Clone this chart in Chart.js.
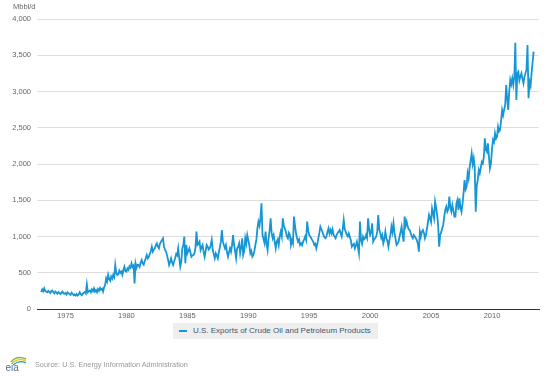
<!DOCTYPE html>
<html>
<head>
<meta charset="utf-8">
<script src="https://cdn.jsdelivr.net/npm/chart.js@4.4.0/dist/chart.umd.min.js"></script>
<style>
html,body{margin:0;padding:0;background:#fff;}
#wrap{position:relative;width:548px;height:376px;overflow:hidden;font-family:"Liberation Sans",Arial,sans-serif;}
#chart{position:absolute;left:0;top:0;}
#unit{position:absolute;left:13px;top:2px;font-size:7.5px;line-height:9px;color:#666;}
#legend{position:absolute;left:173px;top:323px;width:205px;height:16px;background:#eeeeee;}
#legend .mk{position:absolute;left:6px;top:7px;width:8px;height:2px;background:#1696d4;}
#legend .tx{position:absolute;left:20px;top:3px;font-size:8px;line-height:10px;color:#3e576f;white-space:nowrap;}
#source{position:absolute;left:35px;top:360px;font-size:7.3px;line-height:10px;color:#999;white-space:nowrap;}
#logo{position:absolute;left:5px;top:355px;}
</style>
</head>
<body>
<div id="wrap">
  <canvas id="chart" width="548" height="376"></canvas>
  <div id="unit">Mbbl/d</div>
  <div id="legend"><span class="mk"></span><span class="tx" id="legendText"></span></div>
  <svg id="logo" width="24" height="17" viewBox="0 0 24 17">
    <path d="M6 7 Q12 0 21 4" stroke="#7ab648" stroke-width="1.6" fill="none"/>
    <path d="M7 8.5 Q13 2.5 21 6" stroke="#f2c200" stroke-width="1.3" fill="none"/>
    <path d="M8 10 Q14 4.5 21 8" stroke="#1a97d5" stroke-width="1.1" fill="none"/>
    <text x="0.5" y="16" font-family="Liberation Sans, Arial, sans-serif" font-size="10" fill="#4f6f8d">eia</text>
  </svg>
  <div id="source">Source: U.S. Energy Information Administration</div>
</div>
<script>
// ---- data (thousand barrels per day, monthly, Jan 1973 onward) ----
const seriesName = "U.S. Exports of Crude Oil and Petroleum Products";
const unitLabel = "Mbbl/d";
const startYear = 1973;
const exports1970s = [
  235, 270, 245, 285, 250, 240, 230, 250, 235, 220, 245, 255,
  230, 215, 240, 225, 210, 235, 220, 205, 225, 240, 215, 210,
  220, 200, 230, 215, 205, 195, 225, 210, 190, 200, 185, 205,
  185, 200, 230, 205, 190, 210, 225, 235, 215, 340, 230, 245,
  255, 230, 270, 245, 285, 240, 260, 230, 275, 250, 290, 265,
  280, 240, 300, 330, 420, 380, 470, 410, 390, 450, 420, 470,
  440, 607, 500, 469, 480, 530, 500, 516, 470, 540, 583, 520
];
const exports1980s = [
  516, 560, 540, 590, 570, 630, 580, 600, 354, 630, 570, 610,
  607, 580, 640, 676, 630, 610, 660, 700, 745, 699, 720, 760,
  800, 860, 791, 820, 837, 880, 906, 860, 837, 900, 929, 950,
  975, 860, 814, 791, 740, 680, 607, 650, 699, 640, 607, 660,
  699, 760, 740, 837, 700, 583, 650, 837, 883, 998, 630, 883,
  768, 800, 837, 780, 722, 740, 745, 768, 850, 1067, 883, 900,
  929, 814, 850, 883, 790, 722, 800, 883, 860, 820, 837, 880,
  952, 814, 760, 699, 768, 740, 699, 780, 850, 929, 1090, 929,
  880, 837, 883, 790, 722, 780, 837, 791, 880, 1021, 883, 800,
  699, 837, 860, 906, 768, 850, 975, 745, 800, 975, 900, 1021
];
const exports1990s = [
  950, 883, 768, 800, 722, 745, 800, 883, 960, 1113, 1205, 1150,
  1250, 1458, 1021, 960, 906, 1067, 900, 814, 975, 1080, 1251, 1050,
  975, 1021, 930, 837, 929, 960, 883, 1000, 1067, 1000, 1251, 1150,
  1113, 1067, 1000, 975, 1050, 1021, 883, 950, 906, 1274, 1150, 1044,
  980, 929, 960, 883, 906, 880, 929, 960, 998, 952, 1205, 1080,
  1021, 1000, 975, 950, 929, 883, 900, 837, 900, 975, 1050, 1136,
  1100, 1067, 1021, 990, 975, 1000, 1067, 1113, 1040, 1090, 1044, 1100,
  1021, 1000, 975, 1021, 1050, 1067, 1090, 1040, 998, 1100, 1228, 1100,
  1067, 1021, 1000, 1044, 998, 950, 860, 883, 900, 837, 880, 929,
  850, 768, 1205, 952, 900, 998, 960, 975, 1021, 980, 1251, 1100
];
const exports2000s = [
  1021, 1060, 1182, 929, 960, 975, 1000, 1067, 1297, 1100, 1044, 980,
  1021, 906, 960, 1067, 975, 940, 860, 950, 1021, 1136, 1060, 1182,
  1050, 975, 883, 900, 929, 1000, 1067, 1136, 1020, 929, 1274, 1150,
  1205, 1136, 1100, 1090, 1044, 1000, 975, 1021, 1000, 975, 950, 900,
  791, 1067, 1000, 1067, 1090, 1050, 975, 1020, 1113, 1200, 1297, 1251,
  1200, 1388, 1320, 1250, 1480, 1400, 1297, 1150, 860, 1021, 1060, 1113,
  1159, 1273, 1366, 1411, 1343, 1380, 1549, 1400, 1343, 1434, 1360, 1274,
  1274, 1458, 1503, 1366, 1527, 1400, 1342, 1450, 1600, 1779, 1650, 1687,
  1871, 1800, 1950, 2050, 2147, 2000, 2080, 1950, 1342, 1700, 1779, 1917,
  1871, 1950, 2032, 2009, 2100, 2354, 2200, 2170, 2285, 2100, 1940, 2009
];
const exports2010s = [
  2200, 2331, 2300, 2423, 2350, 2377, 2515, 2450, 2469, 2600, 2745, 2676,
  2750, 2814, 3090, 2900, 2745, 3000, 3159, 3100, 3182, 3090, 3200, 3673,
  2883, 3251, 3274, 3150, 3205, 3251, 3180, 3113, 3200, 3250, 3300, 3641,
  2906, 3135, 3080, 3250, 3400, 3549
];
const yearTicks = [1975, 1980, 1985, 1990, 1995, 2000, 2005, 2010];
const valueTicks = [0, 500, 1000, 1500, 2000, 2500, 3000, 3500, 4000];

// ---- build ----
const monthly = [].concat(exports1970s, exports1980s, exports1990s, exports2000s, exports2010s);
const points = monthly.map((v, i) => ({ x: startYear + i / 12, y: v }));
document.getElementById('legendText').textContent = seriesName;
document.getElementById('unit').textContent = unitLabel;

const FONT = "'Liberation Sans', Arial, sans-serif";
const fmt = v => String(v).replace(/\B(?=(\d{3})+(?!\d))/g, ',');

new Chart(document.getElementById('chart').getContext('2d'), {
  type: 'line',
  data: {
    datasets: [{
      label: seriesName,
      data: points,
      borderColor: '#1696d4',
      borderWidth: 1.8,
      pointRadius: 0,
      tension: 0,
      fill: false
    }]
  },
  options: {
    responsive: false,
    animation: false,
    devicePixelRatio: 1,
    layout: { padding: { left: 0, right: 9, top: 19, bottom: 0 } },
    plugins: { legend: { display: false }, tooltip: { enabled: false } },
    scales: {
      x: {
        type: 'linear',
        min: 1972.66,
        max: 2013.86,
        afterBuildTicks: s => { s.ticks = yearTicks.map(v => ({ value: v })); },
        afterFit: s => { s.height = 67; },
        grid: { drawOnChartArea: false, drawTicks: false },
        border: { display: true, color: '#333', width: 1 },
        ticks: {
          autoSkip: false, maxRotation: 0, padding: 2,
          color: '#666', font: { family: FONT, size: 7.5 },
          callback: v => String(v)
        }
      },
      y: {
        min: 0,
        max: 4000,
        afterBuildTicks: s => { s.ticks = valueTicks.map(v => ({ value: v })); },
        afterFit: s => { s.width = 37; },
        grid: { color: '#dddddd', lineWidth: 1, drawTicks: false },
        border: { display: false },
        ticks: {
          padding: 6, color: '#666', font: { family: FONT, size: 7.5 },
          callback: v => fmt(v)
        }
      }
    }
  }
});
</script>
</body>
</html>
